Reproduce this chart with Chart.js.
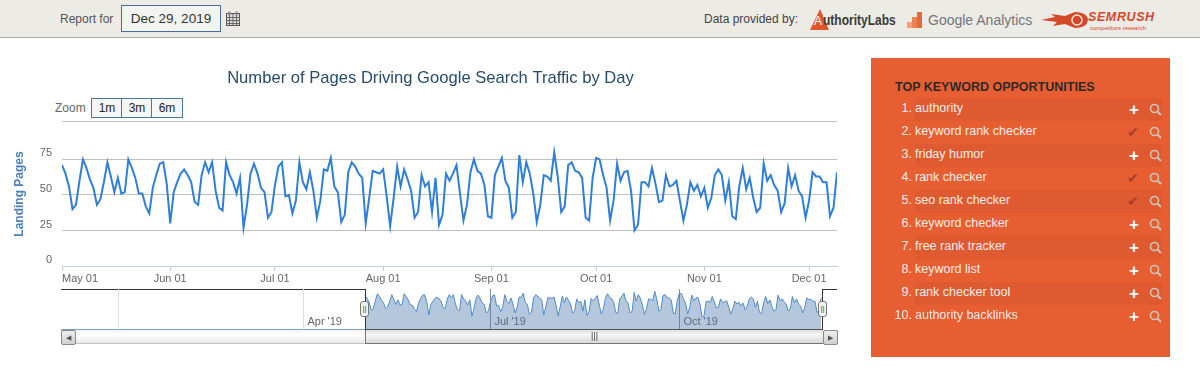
<!DOCTYPE html>
<html>
<head>
<meta charset="utf-8">
<script src="https://cdn.jsdelivr.net/npm/chart.js@4/dist/chart.umd.min.js"></script>
<style>
body { margin: 0; width: 1200px; height: 383px; overflow: hidden; background: #fff; position: relative; font-family: "Liberation Sans", Arial, sans-serif; color: #444; }
.abs { position: absolute; }
#header { left: 0; top: 0; width: 1200px; height: 37px; background: #ecebe6; border-bottom: 1px solid #a9a9a7; }
#dateBox { left: 121px; top: 5px; width: 98px; height: 25px; line-height: 25px; text-align: center; border: 1px solid #4a6d9c; background: #f3f3f0; font-size: 13.5px; color: #333; }
.zoomBtn { top: 98px; width: 30px; height: 18px; line-height: 18px; text-align: center; border: 1px solid #4a76ab; background: #f6f6f6; font-size: 12px; color: #222; box-sizing: content-box; }
#panel { left: 871px; top: 58px; width: 299px; height: 299px; background: #e75e33; }
#panelTitle { left: 24px; top: 22px; font-size: 12.5px; font-weight: bold; color: #2e2a28; white-space: nowrap; }
.band { left: 44px; width: 247px; height: 23px; background: #df5a30; }
.num { left: 14px; width: 27px; text-align: right; font-size: 12.5px; color: #fbeee8; }
.kw { left: 44px; font-size: 12.5px; color: #fbeee8; white-space: nowrap; }
.plus { left: 258px; font-size: 17px; font-weight: bold; color: #fff; line-height: 17px; }
.check { left: 256px; font-size: 14px; color: #a93f2a; font-family: "DejaVu Sans"; line-height: 14px; }
#track { left: 61px; top: 330px; width: 775px; height: 13px; background: linear-gradient(#f3f3f3, #fff 40%, #e9e9e9); border: 1px solid #c4c4c4; border-top: 0; }
.btn { top: 330px; width: 13px; height: 13px; background: linear-gradient(#eee, #d0d0d0); border: 1px solid #8a8a8a; border-radius: 2px; color: #555; font-size: 7px; line-height: 13px; text-align: center; }
#thumb { left: 365px; top: 330px; width: 457px; height: 13px; background: linear-gradient(#ddd, #f6f6f6 35%, #d8d8d8); border: 1px solid #777; border-top: 0; border-right: 0; font-size: 9px; line-height: 13px; text-align: center; color: #444; }
.handle { top: 301px; width: 7px; height: 14px; background: #f3f3f3; border: 1px solid #777; border-radius: 3px; font-size: 8px; line-height: 13px; text-align: center; color: #444; }
</style>
</head>
<body>
<div id="header" class="abs"></div>
<div class="abs" style="left:60px;top:12px;font-size:12px;color:#555">Report for</div>
<div id="dateBox" class="abs">Dec 29, 2019</div>
<svg class="abs" style="left:226px;top:11px" width="14" height="15" viewBox="0 0 14 15">
  <rect x="0.5" y="2.5" width="13" height="12" fill="#ddd" stroke="#555"/>
  <path d="M0 6.5H14M0 9.5H14M0 12.5H14M3.5 3V15M7 3V15M10.5 3V15" stroke="#666" fill="none"/>
  <rect x="2.5" y="0.5" width="2" height="4" fill="#888"/><rect x="9.5" y="0.5" width="2" height="4" fill="#888"/>
</svg>

<div class="abs" style="left:704px;top:12px;font-size:12px;color:#444">Data provided by:</div>
<svg class="abs" style="left:809px;top:6px" width="25" height="26" viewBox="0 0 25 26"><path d="M11 3L20 24H1Z" fill="#e2552b"/></svg>
<div class="abs" style="left:814px;top:14px;font-size:12px;color:#fff">A</div>
<div class="abs" style="left:823px;top:11px;font-size:15px;font-weight:bold;color:#3a3a3a;transform:scaleX(.8);transform-origin:left;white-space:nowrap">uthorityLabs</div>
<svg class="abs" style="left:907px;top:11px" width="16" height="18" viewBox="0 0 16 18"><rect x="0" y="11" width="5" height="6" fill="#f0a27e"/><rect x="5" y="6" width="5" height="11" fill="#ec8251"/><rect x="10" y="1" width="5" height="16" fill="#e6693a"/></svg>
<div class="abs" style="left:928px;top:12px;font-size:14px;color:#74767a;white-space:nowrap">Google Analytics</div>
<svg class="abs" style="left:1041px;top:11px" width="48" height="18" viewBox="0 0 48 18"><path d="M0 9L14 6L10 3L24 5L34 1Q46 1 47 9Q46 17 34 17L24 13L12 15L16 11Z" fill="#d5492a"/><circle cx="36" cy="9" r="5" fill="none" stroke="#f6e9e0" stroke-width="1.5"/></svg>
<div class="abs" style="left:1088px;top:10px;font-size:12.5px;font-weight:bold;font-style:italic;color:#d5492a;letter-spacing:.6px">SEMRUSH</div>
<div class="abs" style="left:1090px;top:25px;font-size:6px;color:#d5492a;white-space:nowrap">competitors research</div>

<div class="abs" style="left:55px;top:101px;font-size:12px;color:#666">Zoom</div>
<div class="abs zoomBtn" style="left:91px">1m</div>
<div class="abs zoomBtn" style="left:121px">3m</div>
<div class="abs zoomBtn" style="left:151px">6m</div>

<canvas id="mainChart" class="abs" style="left:0;top:60px"></canvas>

<div class="abs" style="left:61px;top:289px;width:304px;height:1px;background:#333"></div>
<div class="abs" style="left:822px;top:289px;width:15px;height:1px;background:#333"></div>
<div class="abs" style="left:61px;top:329px;width:304px;height:1px;background:#7c9fcb"></div>
<div class="abs" style="left:365px;top:329px;width:457px;height:1px;background:#555"></div>
<canvas id="navChart" class="abs" style="left:61px;top:289px"></canvas>

<div id="track" class="abs"></div>
<div class="abs btn" style="left:61px">&#9664;</div>
<div id="thumb" class="abs">|||</div>
<div class="abs btn" style="left:823px">&#9654;</div>
<div class="abs" style="left:365px;top:289px;width:1px;height:41px;background:#333"></div>
<div class="abs" style="left:822px;top:289px;width:1px;height:41px;background:#333"></div>
<div class="abs handle" style="left:360px">||</div>
<div class="abs handle" style="left:818px">||</div>

<div id="panel" class="abs"><div id="panelTitle" class="abs">TOP KEYWORD OPPORTUNITIES</div></div>

<script>
// daily landing pages, May 01 onwards
const landingPages = [
    71, 65, 56, 40, 43, 60, 75, 69, 61, 55, 43, 47, 59, 73, 63, 52, 62, 51, 52, 75,
    69, 62, 51, 51, 42, 37, 55, 64, 72, 73, 58, 30, 52, 59, 65, 68, 64, 59, 45, 43,
    64, 73, 66, 73, 53, 41, 39, 73, 64, 59, 51, 62, 27, 43, 65, 72, 65, 55, 52, 34,
    38, 57, 70, 73, 49, 50, 37, 46, 73, 59, 54, 66, 53, 34, 46, 68, 67, 76, 56, 52,
    31, 36, 66, 73, 70, 65, 62, 30, 48, 67, 66, 65, 68, 49, 28, 48, 70, 56, 68, 61,
    53, 34, 38, 64, 56, 59, 38, 62, 29, 36, 65, 60, 65, 71, 51, 32, 43, 66, 75, 67,
    65, 57, 35, 34, 64, 70, 76, 60, 55, 34, 38, 78, 59, 73, 65, 51, 31, 43, 64, 63,
    60, 80, 63, 38, 42, 71, 73, 67, 66, 62, 34, 32, 62, 76, 75, 64, 55, 32, 46, 72,
    60, 66, 67, 53, 25, 29, 59, 59, 56, 69, 58, 45, 46, 64, 56, 57, 60, 46, 32, 43,
    59, 53, 57, 49, 55, 41, 48, 64, 68, 64, 46, 59, 35, 33, 56, 69, 54, 62, 48, 38,
    41, 72, 60, 64, 57, 53, 38, 44, 69, 56, 64, 53, 49, 34, 46, 66, 63, 63, 59, 59,
    35, 41, 66
];
const tickDays = [0, 31, 61, 92, 123, 153, 184, 214, 222];
const tickLabels = ['May 01', 'Jun 01', 'Jul 01', 'Aug 01', 'Sep 01', 'Oct 01', 'Nov 01', 'Dec 01', ''];
// top line sits a little above where 100 would fall, it has no label anyway
const yMax = 101.4;
const yTicks = [0, 25, 50, 75, yMax];

const navTickDays = [-120, -30, 61, 153];
const navTickLabels = ['', "Apr '19", "Jul '19", "Oct '19"];

const keywords = ['authority', 'keyword rank checker', 'friday humor', 'rank checker', 'seo rank checker',
    'keyword checker', 'free rank tracker', 'keyword list', 'rank checker tool', 'authority backlinks'];
const tracked = [false, true, false, true, true, false, false, false, false, false];

const points = landingPages.map(function (v, i) {
    return { x: i, y: v };
});

function setTicks(list) {
    return function (scale) {
        scale.ticks = list.map(function (v) {
            return { value: v };
        });
    };
}

document.getElementById('mainChart').width = 861;
document.getElementById('mainChart').height = 230;
document.getElementById('navChart').width = 776;
document.getElementById('navChart').height = 41;

new Chart(document.getElementById('mainChart').getContext('2d'), {
    type: 'line',
    data: {
        datasets: [{
            data: points,
            borderColor: '#2f7ed8',
            borderWidth: 2,
            pointRadius: 0,
            tension: 0
        }]
    },
    options: {
        responsive: false,
        animation: false,
        layout: { padding: 0 },
        plugins: {
            legend: { display: false },
            tooltip: { enabled: false },
            title: {
                display: true,
                text: 'Number of Pages Driving Google Search Traffic by Day',
                color: '#274b6d',
                font: { family: 'Liberation Sans', size: 16.6, weight: 'normal' },
                padding: { top: 8, bottom: 34 }
            }
        },
        scales: {
            x: {
                type: 'linear',
                min: 0,
                max: 222,
                afterBuildTicks: setTicks(tickDays),
                afterFit: function (scale) { scale.height = 24; },
                border: { color: '#c0d0e0' },
                grid: {
                    drawOnChartArea: false,
                    tickLength: 5,
                    tickColor: function (c) {
                        return c.index === tickDays.length - 1 ? 'rgba(0,0,0,0)' : '#c0d0e0';
                    }
                },
                ticks: {
                    autoSkip: false,
                    maxRotation: 0,
                    align: 'inner',
                    padding: 1,
                    color: '#666',
                    font: { family: 'Liberation Sans', size: 11 },
                    callback: function (v, i) { return tickLabels[i]; }
                }
            },
            y: {
                min: 0,
                max: yMax,
                afterBuildTicks: setTicks(yTicks),
                afterFit: function (scale) { scale.width = 62; },
                border: { display: false },
                grid: { color: '#c0c0c0', drawTicks: false },
                title: {
                    display: true,
                    text: 'Landing Pages',
                    color: '#4d7fc0',
                    font: { family: 'Liberation Sans', size: 12, weight: 'bold' },
                    padding: { top: 12, bottom: 0 }
                },
                ticks: {
                    padding: 10,
                    labelOffset: -6,
                    color: '#666',
                    font: { family: 'Liberation Sans', size: 11 },
                    callback: function (v) { return v === yMax ? '' : v; }
                }
            },
            // empty axis on the right, keeps the title centred where the original has it
            spacer: {
                axis: 'y',
                position: 'right',
                afterFit: function (scale) { scale.width = 24; },
                border: { display: false },
                grid: { display: false },
                ticks: { display: false }
            }
        }
    }
});

new Chart(document.getElementById('navChart').getContext('2d'), {
    type: 'line',
    data: {
        datasets: [{
            data: points,
            borderColor: '#4f8acb',
            borderWidth: 1,
            backgroundColor: 'rgba(69,114,167,0.4)',
            fill: 'origin',
            pointRadius: 0,
            tension: 0
        }]
    },
    options: {
        responsive: false,
        animation: false,
        layout: { padding: 0 },
        plugins: { legend: { display: false }, tooltip: { enabled: false } },
        scales: {
            x: {
                type: 'linear',
                min: -148,
                max: 229.7,
                afterBuildTicks: setTicks(navTickDays),
                afterFit: function (scale) { scale.height = 1; },
                border: { display: false },
                grid: {
                    drawTicks: false,
                    color: function (c) {
                        return c.index >= 2 ? '#8593a8' : '#e0e0e0';
                    }
                },
                ticks: {
                    autoSkip: false,
                    maxRotation: 0,
                    align: 'start',
                    mirror: true,
                    labelOffset: 4,
                    padding: 0,
                    color: '#666',
                    font: { family: 'Liberation Sans', size: 11 },
                    callback: function (v, i) { return navTickLabels[i]; }
                }
            },
            y: {
                display: false,
                min: 0,
                max: 85
            }
        }
    }
});

// keyword list on the right
var panel = document.getElementById('panel');
var searchIcon = '<svg width="13" height="13" viewBox="0 0 13 13"><circle cx="5.5" cy="5.5" r="4" fill="none" stroke="#c9c4b8" stroke-width="1.6"/><path d="M8.5 8.5L12 12" stroke="#c9c4b8" stroke-width="2"/></svg>';
keywords.forEach(function (word, i) {
    var top = 39 + i * 23;
    var html = '';
    if (i % 2 === 0) {
        html += '<div class="abs band" style="top:' + (top + 1) + 'px"></div>';
    }
    html += '<div class="abs num" style="top:' + (top + 4) + 'px">' + (i + 1) + '.</div>';
    html += '<div class="abs kw" style="top:' + (top + 4) + 'px">' + word + '</div>';
    if (tracked[i]) {
        html += '<div class="abs check" style="top:' + (top + 5) + 'px">&#10004;</div>';
    } else {
        html += '<div class="abs plus" style="top:' + (top + 4) + 'px">+</div>';
    }
    html += '<div class="abs" style="left:278px;top:' + (top + 5) + 'px">' + searchIcon + '</div>';
    panel.insertAdjacentHTML('beforeend', html);
});
</script>
</body>
</html>
